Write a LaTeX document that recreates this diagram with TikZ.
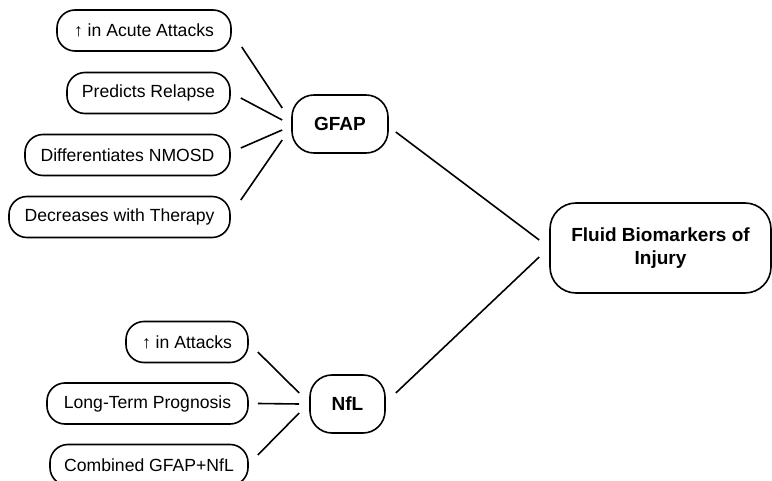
\documentclass[tikz,border=0pt]{standalone}
\usepackage{fontspec}
\setmainfont{Liberation Sans}
\usetikzlibrary{calc}
\tikzset{
  box/.style={draw=black, line width=1.6pt, rounded corners=18pt, minimum height=41pt, inner sep=0pt, align=center, font=\fontsize{17.6}{20}\selectfont},
  hub/.style={draw=black, line width=1.6pt, rounded corners=22pt, minimum height=58pt, inner sep=0pt, align=center, font=\fontsize{19}{23}\selectfont\bfseries},
  link/.style={line width=1.6pt, draw=black}
}
\begin{document}
\begin{tikzpicture}[x=1pt,y=-1pt]
\useasboundingbox (0,0) rectangle (772,481);
\clip (0,0) rectangle (772,481);
% GFAP branch
\node[box, minimum width=174pt] (c1) at (144,30.5) {↑ in Acute Attacks};
\node[box, minimum width=163pt] (c2) at (148.5,93) {Predicts Relapse};
\node[box, minimum width=205pt] (c3) at (127.5,155) {Differentiates NMOSD};
\node[box, minimum width=221pt] (c4) at (119.5,217) {Decreases with Therapy};
\node[hub, minimum width=96pt] (gfap) at (340,124) {GFAP};
% NfL branch
\node[box, minimum width=122pt] (n1) at (187,342) {↑ in Attacks};
\node[box, minimum width=201pt] (n2) at (147.5,403.5) {Long-Term Prognosis};
\node[box, minimum width=198pt] (n3) at (149,465) {Combined GFAP+NfL};
\node[hub, minimum width=75pt] (nfl) at (347.5,404) {NfL};
% root
\node[hub, rounded corners=26pt, minimum width=221pt, minimum height=90pt] (root) at (660.5,248) {Fluid Biomarkers of\\Injury};
% connectors
\draw[link] ($(c1.east)+(10,16.5)$) -- ($(gfap.west)+(-9,-16)$);
\draw[link] ($(c2.east)+(10,5)$) -- ($(gfap.west)+(-9,-4)$);
\draw[link] ($(c3.east)+(10,-7)$) -- ($(gfap.west)+(-9,6)$);
\draw[link] ($(c4.east)+(10,-17)$) -- ($(gfap.west)+(-9,16)$);
\draw[link] ($(n1.east)+(9,10)$) -- ($(nfl.west)+(-10,-11)$);
\draw[link] ($(n2.east)+(9,0)$) -- ($(nfl.west)+(-10,0)$);
\draw[link] ($(n3.east)+(9,-10)$) -- ($(nfl.west)+(-10,9)$);
\draw[link] ($(gfap.east)+(7,8)$) -- ($(root.west)+(-10,-8)$);
\draw[link] ($(nfl.east)+(10,-11)$) -- ($(root.west)+(-10,9)$);
\end{tikzpicture}
\end{document}
